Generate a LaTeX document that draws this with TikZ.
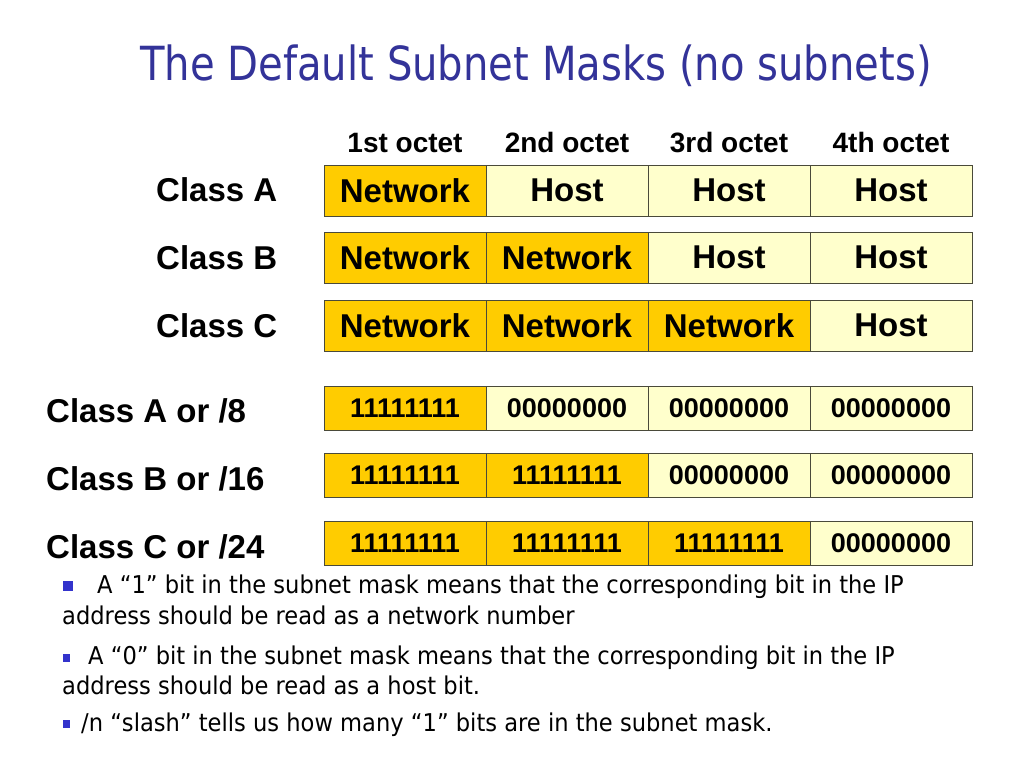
\documentclass[tikz,border=0pt]{standalone}
\usepackage{fontspec}
\setmainfont{Liberation Sans}
\newfontfamily\tah{DejaVu Sans}
\definecolor{netc}{HTML}{FFCC00}
\definecolor{hostc}{HTML}{FFFFCC}
\definecolor{titlec}{HTML}{333399}
\definecolor{bulc}{HTML}{3333CC}
\definecolor{edgec}{HTML}{4A4A3A}
\newcommand{\tw}[1]{\scalebox{0.854}[1]{#1}}
\newcommand{\bw}[1]{\scalebox{0.922}[1]{#1}}
\begin{document}
\begin{tikzpicture}[x=1pt,y=-1pt,
  cell/.style={draw=edgec, line width=0.9pt, minimum width=162pt, inner sep=0pt, text=black},
  big/.style={cell, minimum height=51pt, font=\bfseries\fontsize{33}{36}\selectfont},
  mask/.style={cell, minimum height=44pt, font=\bfseries\fontsize{27}{29}\selectfont},
  net/.style={fill=netc},
  host/.style={fill=hostc},
  hdr/.style={font=\bfseries\fontsize{28}{30}\selectfont, inner sep=0pt, anchor=base},
  lbl/.style={font=\bfseries\fontsize{33}{36}\selectfont, inner sep=0pt, anchor=base west},
  btxt/.style={font=\tah\fontsize{24.5}{28}\selectfont, inner sep=0pt, anchor=base west},
  bul/.style={fill=bulc, inner sep=0pt, draw=none}]
\useasboundingbox (0,0) rectangle (1024,768);
\fill[white] (0,0) rectangle (1024,768);
% title
\node[font=\tah\fontsize{47}{50}\selectfont, text=titlec, inner sep=0pt, anchor=base west] (title) at (140,81) {\tw{The Default Subnet Masks (no subnets)}};
% headers
\node[hdr] (h1) at (405,152) {1st octet};
\node[hdr] (h2) at (567,152) {2nd octet};
\node[hdr] (h3) at (729,152) {3rd octet};
\node[hdr] (h4) at (891,152) {4th octet};
% class labels
\node[lbl] (la) at (156,201) {Class A};
\node[lbl] (lb) at (156,269) {Class B};
\node[lbl] (lc) at (156,337) {Class C};
\node[lbl] (l8) at (46,422) {Class A or /8};
\node[lbl] (l16) at (46,490) {Class B or /16};
\node[lbl] (l24) at (46,558) {Class C or /24};
% row 1
\node[big,net]  (a1) at (405,190.5) {Network};
\node[big,host] (a2) at (567,190.5) {Host};
\node[big,host] (a3) at (729,190.5) {Host};
\node[big,host] (a4) at (891,190.5) {Host};
% row 2
\node[big,net]  (b1) at (405,257.5) {Network};
\node[big,net]  (b2) at (567,257.5) {Network};
\node[big,host] (b3) at (729,257.5) {Host};
\node[big,host] (b4) at (891,257.5) {Host};
% row 3
\node[big,net]  (c1) at (405,325.5) {Network};
\node[big,net]  (c2) at (567,325.5) {Network};
\node[big,net]  (c3) at (729,325.5) {Network};
\node[big,host] (c4) at (891,325.5) {Host};
% mask rows
\node[mask,net]  (m11) at (405,408) {11111111};
\node[mask,host] (m12) at (567,408) {00000000};
\node[mask,host] (m13) at (729,408) {00000000};
\node[mask,host] (m14) at (891,408) {00000000};
\node[mask,net]  (m21) at (405,475) {11111111};
\node[mask,net]  (m22) at (567,475) {11111111};
\node[mask,host] (m23) at (729,475) {00000000};
\node[mask,host] (m24) at (891,475) {00000000};
\node[mask,net]  (m31) at (405,543) {11111111};
\node[mask,net]  (m32) at (567,543) {11111111};
\node[mask,net]  (m33) at (729,543) {11111111};
\node[mask,host] (m34) at (891,543) {00000000};
% bullets
\node[bul, minimum size=10pt] (q1) at (67.5,585.5) {};
\node[bul, minimum size=7.5pt] (q2) at (66.5,658) {};
\node[bul, minimum size=7.5pt] (q3) at (66.5,724) {};
\node[btxt] (t1) at (97,593) {\bw{A “1” bit in the subnet mask means that the corresponding bit in the IP}};
\node[btxt] (t2) at (62,624) {\bw{address should be read as a network number}};
\node[btxt] (t3) at (88,664) {\bw{A “0” bit in the subnet mask means that the corresponding bit in the IP}};
\node[btxt] (t4) at (62,694) {\bw{address should be read as a host bit.}};
\node[btxt] (t5) at (81,731) {\bw{/n “slash” tells us how many “1” bits are in the subnet mask.}};
\end{tikzpicture}
\end{document}
